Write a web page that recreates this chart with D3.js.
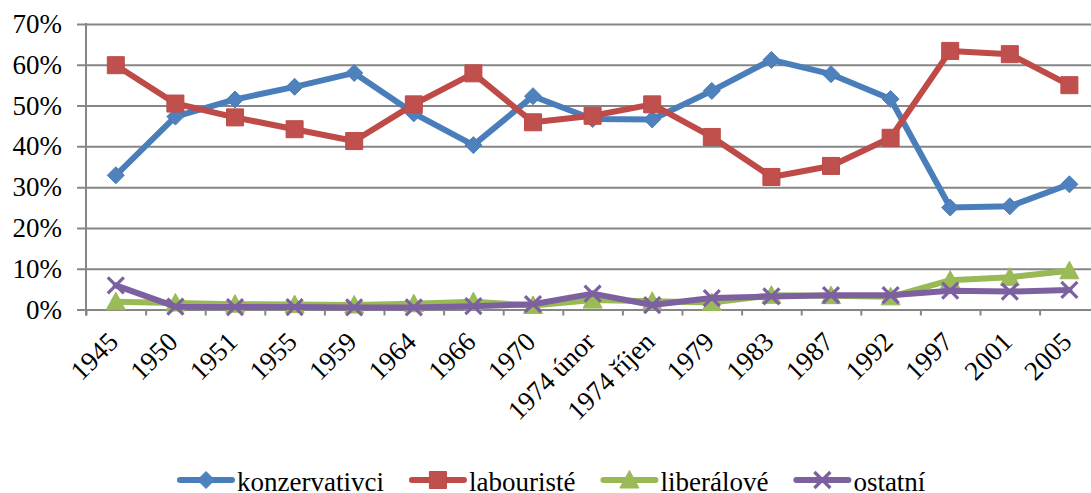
<!DOCTYPE html>
<html lang="cs">
<head>
    <meta charset="UTF-8">
    <title>Volby</title>
    <script src="https://d3js.org/d3.v7.min.js" charset="utf-8"></script>
    <style>
        body{margin:0;background:#fff}
        svg text{font-family:"Liberation Serif","Times New Roman",serif;font-size:27px;fill:#000}
    </style>
</head>
<body>
<script>
//  data
var roky=["1945","1950","1951","1955","1959","1964","1966","1970","1974 únor","1974 říjen","1979","1983","1987","1992","1997","2001","2005"];
var konzervativci=[32.9,47.3,51.5,54.6,58.0,48.1,40.3,52.3,46.7,46.6,53.6,61.2,57.7,51.6,25.0,25.3,30.7];
var labouriste=[59.9,50.5,47.1,44.2,41.3,50.3,57.9,45.9,47.5,50.3,42.3,32.5,35.2,42.1,63.4,62.6,55.0];
var liberalove=[1.9,1.6,1.3,1.2,1.1,1.4,1.9,1.0,2.3,2.0,1.7,3.5,3.4,3.1,7.2,7.9,9.5];
var ostatni=[5.9,0.7,0.6,0.6,0.5,0.5,0.8,1.3,3.9,1.1,2.8,3.2,3.5,3.5,4.6,4.4,4.8];
var yTicks=[0,10,20,30,40,50,60,70];

var width=1091,height=493;
var left=86,top0=24,bottom0=309.5,step=59.6;

var svg=d3.select("body").append("svg")
        .attr("width",width)
        .attr("height",height);

var x=d3.scaleBand().domain(roky).range([left,left+step*roky.length]);
var xEdge=d3.scaleLinear().domain([0,roky.length]).range([left,left+step*roky.length]);
var y=d3.scaleLinear().domain([0,70]).range([bottom0,top0]);

var serie=[
    {name:"konzervativci",values:konzervativci,line:"#4A7EBB",fill:"#4F81BD",marker:"diamond"},
    {name:"labouristé",values:labouriste,line:"#BE4B48",fill:"#C0504D",marker:"square"},
    {name:"liberálové",values:liberalove,line:"#98B954",fill:"#9BBB59",marker:"triangle"},
    {name:"ostatní",values:ostatni,line:"#7D60A0",fill:"#8064A2",marker:"cross"}
];

//  mrizka (gridlines incl. the small ticks left of the axis)
var grid=svg.append("g")
        .attr("transform","translate("+(left-9)+",0)")
        .call(d3.axisRight(y).tickValues(yTicks).tickSize(width).tickFormat(""));
grid.select(".domain").remove();
grid.selectAll("line").attr("stroke","#868686").attr("stroke-width",2);

//  popisky osy y
var yAxis=svg.append("g")
        .attr("transform","translate("+left+",0)")
        .call(d3.axisLeft(y).tickValues(yTicks).tickSize(0).tickPadding(24).tickFormat(function(d){return d+"%";}));
yAxis.select(".domain").remove();
yAxis.attr("font-size",null).attr("font-family",null);

svg.append("line")
        .attr("x1",left).attr("x2",left)
        .attr("y1",y(70)-1).attr("y2",y(0)+6)
        .attr("stroke","#868686").attr("stroke-width",2);

//  osa x - carky na hranicich kategorii
var xTickAxis=svg.append("g")
        .attr("transform","translate(0,"+y(0)+")")
        .call(d3.axisBottom(xEdge).tickValues(d3.range(roky.length+1)).tickSize(6).tickSizeOuter(0).tickFormat(""));
xTickAxis.selectAll("line,path").attr("stroke","#868686").attr("stroke-width",2);

//  popisky osy x, otocene o 45 stupnu
var xAxis=svg.append("g")
        .attr("transform","translate(0,"+y(0)+")")
        .call(d3.axisBottom(x).tickSize(0));
xAxis.select(".domain").remove();
xAxis.attr("font-size",null).attr("font-family",null);
xAxis.selectAll("text")
        .attr("y",0).attr("dy",0)
        .attr("text-anchor","end")
        .attr("transform","translate(4,34) rotate(-45)");

//  znacky
function markerPath(type){
    var r=8.5;
    if(type=="diamond") return "M0,"+(-r)+"L"+r+",0L0,"+r+"L"+(-r)+",0Z";
    if(type=="square") return "M"+(-r)+","+(-r)+"H"+r+"V"+r+"H"+(-r)+"Z";
    if(type=="triangle") return "M0,-9.5L9.5,8L-9.5,8Z";
    return "M-8,-8L8,8M8,-8L-8,8";
}
function drawMarker(g,s){
    if(s.marker=="cross"){
        g.append("path").attr("d",markerPath(s.marker))
            .attr("stroke",s.line).attr("stroke-width",3.2).attr("fill","none");
    }else{
        g.append("path").attr("d",markerPath(s.marker))
            .attr("fill",s.fill).attr("stroke",s.line).attr("stroke-width",1);
    }
}

var cx=function(d,i){return x(roky[i])+x.bandwidth()/2;};
var line=d3.line().x(cx).y(function(d){return y(d);});

serie.forEach(function(s){
    var g=svg.append("g");
    g.append("path")
        .attr("d",line(s.values))
        .attr("fill","none")
        .attr("stroke",s.line)
        .attr("stroke-width",6)
        .attr("stroke-linejoin","round")
        .attr("stroke-linecap","round");
    g.selectAll("g.m")
        .data(s.values)
        .enter()
        .append("g")
        .attr("class","m")
        .attr("transform",function(d,i){return "translate("+cx(d,i)+","+y(d)+")";})
        .each(function(){drawMarker(d3.select(this),s);});
});

//  legenda
var lx=180,ly=480;
serie.forEach(function(s){
    var g=svg.append("g").attr("transform","translate("+lx+","+ly+")");
    g.append("line")
        .attr("x1",0).attr("x2",52)
        .attr("stroke",s.line).attr("stroke-width",6)
        .attr("stroke-linecap","round");
    var m=g.append("g").attr("transform","translate(26,0)");
    drawMarker(m,s);
    var t=g.append("text")
        .attr("x",57)
        .attr("dy","0.4em")
        .text(s.name);
    lx+=57+t.node().getComputedTextLength()+28;
});
</script>
</body>
</html>
